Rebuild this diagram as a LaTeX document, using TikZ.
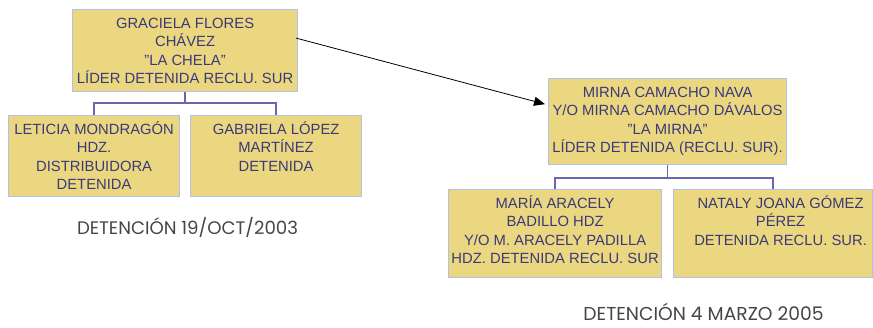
\documentclass[tikz,border=0pt]{standalone}
\usepackage{fontspec}
\setmainfont{Liberation Sans}
\newfontfamily\capfont{Poppins}
\usetikzlibrary{calc,arrows.meta}
\definecolor{boxfill}{RGB}{235,215,128}
\definecolor{boxline}{RGB}{180,190,230}
\definecolor{boxtext}{RGB}{58,58,122}
\definecolor{linkcol}{RGB}{105,105,165}
\definecolor{capcol}{RGB}{70,70,70}
\newcommand{\boxtext}[4]{\parbox[c][#2pt][t]{#1pt}{\centering\leftskip=#3pt plus 1fil\fontsize{14.8}{18.3}\selectfont\rule{0pt}{19pt}#4}}
\tikzset{
  box/.style={draw=boxline, fill=boxfill, line width=1.2pt, inner sep=0pt, text=boxtext, anchor=north west},
  link/.style={draw=linkcol, line width=1.5pt},
  caption/.style={text=capcol, font=\capfont, inner sep=0pt, anchor=base},
}
\begin{document}
\begin{tikzpicture}[x=1pt,y=-1pt]
\useasboundingbox (0,0) rectangle (873,327);
\node[box] (A) at (72,9) {\boxtext{225}{82}{0}{GRACIELA FLORES\\CHÁVEZ\\"LA CHELA"\\LÍDER DETENIDA RECLU. SUR}};
\node[box] (B) at (8,115) {\boxtext{171}{81}{0}{LETICIA MONDRAGÓN\\HDZ.\\DISTRIBUIDORA\\DETENIDA}};
\node[box] (C) at (190,115) {\boxtext{171}{81}{0}{GABRIELA LÓPEZ\\MARTÍNEZ\\DETENIDA}};
\node[box] (D) at (548,78) {\boxtext{238}{86}{0}{MIRNA CAMACHO NAVA\\Y/O MIRNA CAMACHO DÁVALOS\\"LA MIRNA"\\LÍDER DETENIDA (RECLU. SUR).}};
\node[box] (E) at (448,189) {\boxtext{213}{88}{0}{MARÍA ARACELY\\BADILLO HDZ\\Y/O M. ARACELY PADILLA\\HDZ. DETENIDA RECLU. SUR}};
\node[box] (F) at (673,189) {\boxtext{199}{88}{15}{NATALY JOANA GÓMEZ\\PÉREZ\\DETENIDA RECLU. SUR.}};
\node[caption] (capA) at (187.5,234) {\resizebox{221pt}{!}{DETENCIÓN 19/OCT/2003}};
\node[caption] (capB) at (703.5,320.5) {\resizebox{240pt}{!}{DETENCIÓN 4 MARZO 2005}};
% org connectors
\draw[link] (A.south) -- ++(0,11) -| (B.north);
\draw[link] (A.south) ++(0,11) -| (C.north);
\draw[link] (D.south) -- ++(0,13) -| (E.north);
\draw[link] (D.south) ++(0,13) -| (F.north);
% arrow
\draw[line width=0.8pt, -{Triangle[length=11pt,width=9pt]}] ($(A.north east)!0.35!(A.south east)+(-2,0)$) -- ($(D.north west)!0.3!(D.south west)+(-3,0)$);
\end{tikzpicture}
\end{document}
